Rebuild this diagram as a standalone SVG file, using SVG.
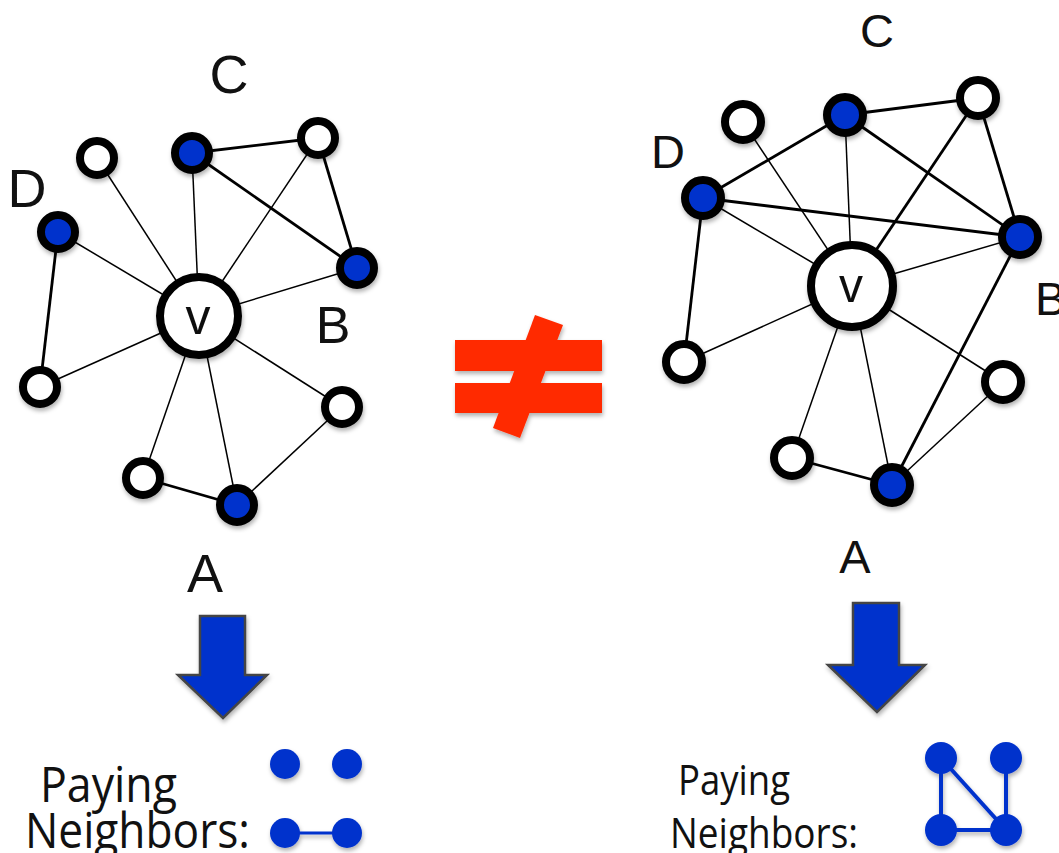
<svg xmlns="http://www.w3.org/2000/svg" width="1059" height="853" viewBox="0 0 1059 853">
<style>
.lbl{font-family:"Liberation Sans",Arial,sans-serif;fill:#111;text-anchor:middle}
.txt{font-family:"Open Sans","Noto Sans",sans-serif;fill:#111}
.wn{fill:#fff;stroke:#000;stroke-width:8}
.bn{fill:#0033cc;stroke:#000;stroke-width:8}
.vn{fill:#fff;stroke:#000;stroke-width:8}
.thin{stroke:#000;stroke-width:1.5;fill:none}
.thick{stroke:#000;stroke-width:2.8;fill:none}
.mini{fill:#0033cc}
.minil{stroke:#0033cc;fill:none}
.arrow{fill:#0033cc;stroke:#444;stroke-width:2.5}
</style>
<defs>
<filter id="sh" x="-30%" y="-30%" width="160%" height="160%">
<feDropShadow dx="1" dy="3" stdDeviation="2" flood-color="#000" flood-opacity="0.3"/>
</filter>
</defs>
<rect width="1059" height="853" fill="#fff"/>

<!-- Left graph connectors -->
<g id="left-edges">
<line class="thin" x1="199" y1="316" x2="97" y2="158"/>
<line class="thin" x1="199" y1="316" x2="192" y2="153"/>
<line class="thin" x1="199" y1="316" x2="318" y2="138"/>
<line class="thin" x1="199" y1="316" x2="58" y2="232"/>
<line class="thin" x1="199" y1="316" x2="357" y2="268"/>
<line class="thin" x1="199" y1="316" x2="40" y2="387"/>
<line class="thin" x1="199" y1="316" x2="342" y2="407"/>
<line class="thin" x1="199" y1="316" x2="143" y2="478"/>
<line class="thin" x1="199" y1="316" x2="237" y2="505"/>
<line class="thick" x1="192" y1="153" x2="318" y2="138"/>
<line class="thick" x1="192" y1="153" x2="357" y2="268"/>
<line class="thick" x1="318" y1="138" x2="357" y2="268"/>
<line class="thick" x1="58" y1="232" x2="40" y2="387"/>
<line class="thick" x1="143" y1="478" x2="237" y2="505"/>
<line class="thin" x1="342" y1="407" x2="237" y2="505"/>
</g>

<!-- Left graph nodes -->
<g id="left-v" filter="url(#sh)"><circle class="vn" cx="199" cy="316" r="39"/><text class="lbl" x="198" y="334" font-size="50">v</text></g>
<g id="left-n1" filter="url(#sh)"><circle class="wn" cx="97" cy="158" r="17"/></g>
<g id="left-C" filter="url(#sh)"><circle class="bn" cx="192" cy="153" r="17"/></g>
<g id="left-n2" filter="url(#sh)"><circle class="wn" cx="318" cy="138" r="17"/></g>
<g id="left-D" filter="url(#sh)"><circle class="bn" cx="58" cy="232" r="17"/></g>
<g id="left-B" filter="url(#sh)"><circle class="bn" cx="357" cy="268" r="17"/></g>
<g id="left-n3" filter="url(#sh)"><circle class="wn" cx="40" cy="387" r="17"/></g>
<g id="left-n4" filter="url(#sh)"><circle class="wn" cx="342" cy="407" r="17"/></g>
<g id="left-n5" filter="url(#sh)"><circle class="wn" cx="143" cy="478" r="17"/></g>
<g id="left-A" filter="url(#sh)"><circle class="bn" cx="237" cy="505" r="17"/></g>
<g id="left-labels">
<text class="lbl" x="229" y="93" font-size="54">C</text>
<text class="lbl" x="27" y="207" font-size="54">D</text>
<text class="lbl" x="333" y="343" font-size="52">B</text>
<text class="lbl" x="205" y="592" font-size="54">A</text>
</g>

<!-- Right graph connectors -->
<g id="right-edges">
<line class="thick" x1="703" y1="198" x2="845" y2="115"/>
<line class="thick" x1="845" y1="115" x2="978" y2="98"/>
<line class="thick" x1="703" y1="198" x2="1020" y2="237"/>
<line class="thick" x1="845" y1="115" x2="1020" y2="237"/>
<line class="thick" x1="978" y1="98" x2="1020" y2="237"/>
<line class="thick" x1="978" y1="98" x2="852" y2="286"/>
<line class="thin" x1="845" y1="115" x2="852" y2="286"/>
<line class="thin" x1="743" y1="122" x2="852" y2="286"/>
<line class="thin" x1="703" y1="198" x2="852" y2="286"/>
<line class="thin" x1="1020" y1="237" x2="852" y2="286"/>
<line class="thick" x1="703" y1="198" x2="684" y2="362"/>
<line class="thin" x1="684" y1="362" x2="852" y2="286"/>
<line class="thin" x1="852" y1="286" x2="792" y2="458"/>
<line class="thin" x1="852" y1="286" x2="892" y2="485" stroke-width="2"/>
<line class="thin" x1="852" y1="286" x2="1003" y2="382"/>
<line class="thick" x1="1020" y1="237" x2="892" y2="485"/>
<line class="thin" x1="1003" y1="382" x2="892" y2="485"/>
<line class="thick" x1="792" y1="458" x2="892" y2="485"/>
</g>

<!-- Right graph nodes -->
<g id="right-v" filter="url(#sh)"><circle class="vn" cx="852" cy="286" r="41" stroke-width="9"/><text class="lbl" x="851" y="302" font-size="48">v</text></g>
<g id="right-n1" filter="url(#sh)"><circle class="wn" cx="743" cy="122" r="18" stroke-width="9"/></g>
<g id="right-C" filter="url(#sh)"><circle class="bn" cx="845" cy="115" r="18" stroke-width="9"/></g>
<g id="right-n2" filter="url(#sh)"><circle class="wn" cx="978" cy="98" r="18" stroke-width="9"/></g>
<g id="right-D" filter="url(#sh)"><circle class="bn" cx="703" cy="198" r="18" stroke-width="9"/></g>
<g id="right-B" filter="url(#sh)"><circle class="bn" cx="1020" cy="237" r="18" stroke-width="9"/></g>
<g id="right-n3" filter="url(#sh)"><circle class="wn" cx="684" cy="362" r="18" stroke-width="9"/></g>
<g id="right-n4" filter="url(#sh)"><circle class="wn" cx="1003" cy="382" r="18" stroke-width="9"/></g>
<g id="right-n5" filter="url(#sh)"><circle class="wn" cx="792" cy="458" r="18" stroke-width="9"/></g>
<g id="right-A" filter="url(#sh)"><circle class="bn" cx="892" cy="485" r="18" stroke-width="9"/></g>
<g id="right-labels">
<text class="lbl" x="877" y="47" font-size="47">C</text>
<text class="lbl" x="668" y="168" font-size="47">D</text>
<text class="lbl" x="1035" y="315" font-size="47" text-anchor="start" style="text-anchor:start">B</text>
<text class="lbl" x="855" y="573" font-size="47">A</text>
</g>

<!-- Not equal sign -->
<g id="not-equal" filter="url(#sh)" fill="#ff2a00">
<rect x="455" y="340" width="147" height="31"/>
<rect x="455" y="383" width="147" height="30"/>
<polygon points="535,315 563,325 520,438 493,428"/>
</g>

<!-- Down arrows -->
<g id="left-arrow" filter="url(#sh)"><polygon class="arrow" points="200,616 245,616 245,675 267,675 223,718 178,675 200,675"/></g>
<g id="right-arrow" filter="url(#sh)"><polygon class="arrow" points="853,603 899,603 899,665 925,665 877,712 828,665 853,665"/></g>

<!-- Paying neighbors -->
<g id="left-paying">
<text class="txt" x="40" y="802" font-size="49" textLength="137" lengthAdjust="spacingAndGlyphs">Paying</text>
<text class="txt" x="25" y="848" font-size="49" textLength="225" lengthAdjust="spacingAndGlyphs">Neighbors:</text>
</g>
<g id="left-mini" filter="url(#sh)">
<line class="minil" x1="285" y1="833" x2="347" y2="833" stroke-width="3"/>
<circle class="mini" cx="285" cy="764" r="15"/>
<circle class="mini" cx="347" cy="764" r="15"/>
<circle class="mini" cx="285" cy="833" r="15"/>
<circle class="mini" cx="347" cy="833" r="15"/>
</g>
<g id="right-paying">
<text class="txt" x="678" y="795" font-size="42" textLength="112" lengthAdjust="spacingAndGlyphs">Paying</text>
<text class="txt" x="670" y="848" font-size="42" textLength="188" lengthAdjust="spacingAndGlyphs">Neighbors:</text>
</g>
<g id="right-mini" filter="url(#sh)">
<line class="minil" x1="941" y1="758" x2="941" y2="830" stroke-width="4"/>
<line class="minil" x1="941" y1="758" x2="1006" y2="830" stroke-width="4"/>
<line class="minil" x1="1006" y1="758" x2="1006" y2="830" stroke-width="4"/>
<line class="minil" x1="941" y1="830" x2="1006" y2="830" stroke-width="4"/>
<circle class="mini" cx="941" cy="758" r="16"/>
<circle class="mini" cx="1006" cy="758" r="16"/>
<circle class="mini" cx="941" cy="830" r="16"/>
<circle class="mini" cx="1006" cy="830" r="16"/>
</g>
</svg>
